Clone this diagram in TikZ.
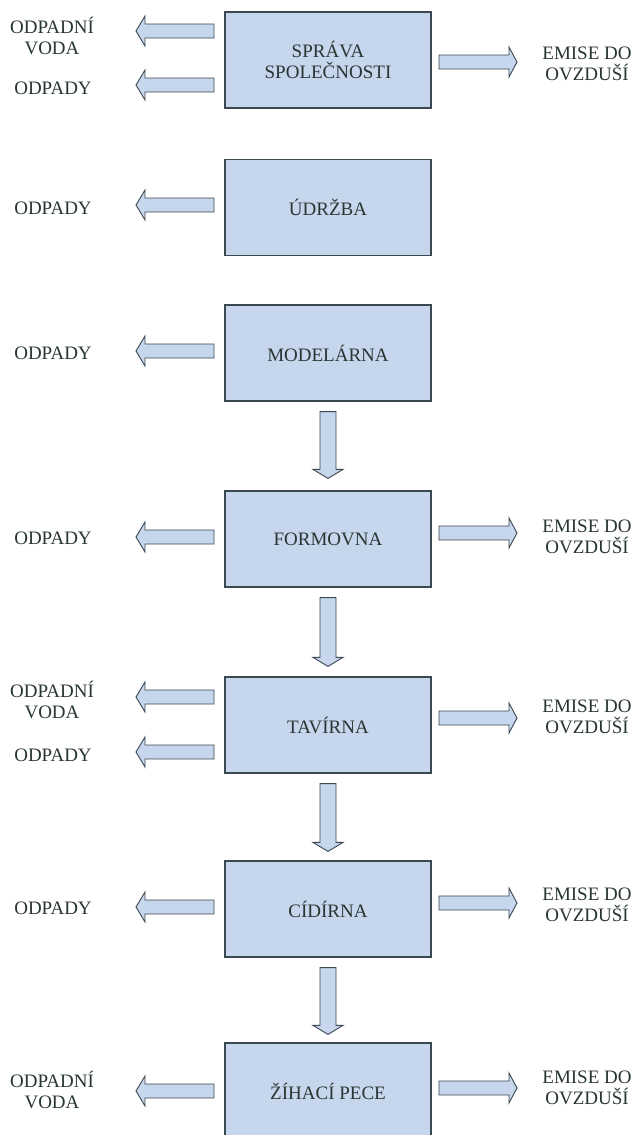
\documentclass[tikz,border=0pt]{standalone}
\usepackage{fontspec}
\setmainfont{Liberation Serif}
\usetikzlibrary{calc}
\definecolor{boxfill}{HTML}{C6D6EC}
\definecolor{edgecol}{HTML}{3C4850}
\definecolor{txtcol}{HTML}{283633}
\tikzset{
  proc/.style={draw=edgecol, fill=boxfill, line width=1.2pt, minimum width=206pt,
    minimum height=96pt, inner sep=0pt, text=txtcol,
    font=\fontsize{19}{21}\selectfont, align=center},
  lbl/.style={text=txtcol, font=\fontsize{19}{21}\selectfont, align=center, inner sep=0pt},
  blk/.style={draw=edgecol, fill=boxfill, line width=0.9pt, line join=miter},
}
% block arrow pointing left: #1 tail (right end), #2 tip
\newcommand{\leftblk}[2]{\draw[blk] let \p1=(#1), \p2=(#2) in
  (\x1,\y1+7pt) -- (\x2+9pt,\y1+7pt) -- (\x2+9pt,\y1+15pt) -- (\x2,\y1)
  -- (\x2+9pt,\y1-15pt) -- (\x2+9pt,\y1-7pt) -- (\x1,\y1-7pt) -- cycle;}
% block arrow pointing right
\newcommand{\rightblk}[2]{\draw[blk] let \p1=(#1), \p2=(#2) in
  (\x1,\y1+7pt) -- (\x2-8pt,\y1+7pt) -- (\x2-8pt,\y1+15pt) -- (\x2,\y1)
  -- (\x2-8pt,\y1-15pt) -- (\x2-8pt,\y1-7pt) -- (\x1,\y1-7pt) -- cycle;}
% block arrow pointing down
\newcommand{\downblk}[2]{\draw[blk] let \p1=(#1), \p2=(#2) in
  (\x1-8pt,\y1) -- (\x1-8pt,\y2+9pt) -- (\x1-15pt,\y2+9pt) -- (\x1,\y2)
  -- (\x1+15pt,\y2+9pt) -- (\x1+8pt,\y2+9pt) -- (\x1+8pt,\y1) -- cycle;}
\begin{document}
\begin{tikzpicture}[x=1pt,y=-1pt]
\useasboundingbox (0,0) rectangle (635,1135);

% process boxes
\node[proc] (b1) at (328,60) {SPRÁVA\\SPOLEČNOSTI};
\node[proc] (b2) at (328,207.5) {ÚDRŽBA};
\node[proc] (b3) at (328,353) {MODELÁRNA};
\node[proc] (b4) at (328,539) {FORMOVNA};
\node[proc] (b5) at (328,725) {TAVÍRNA};
\node[proc] (b6) at (328,909) {CÍDÍRNA};
\node[proc] (b7) at (328,1091) {ŽÍHACÍ PECE};

% labels
\node[lbl] (w1) at (52,36) {ODPADNÍ\\VODA};
\node[lbl] (o1) at (53,88) {ODPADY};
\node[lbl] (e1) at (587,64) {EMISE DO\\OVZDUŠÍ};
\node[lbl] (o2) at (53,208) {ODPADY};
\node[lbl] (o3) at (53,353) {ODPADY};
\node[lbl] (o4) at (53,538) {ODPADY};
\node[lbl] (e4) at (587,537) {EMISE DO\\OVZDUŠÍ};
\node[lbl] (w5) at (52,700) {ODPADNÍ\\VODA};
\node[lbl] (o5) at (53,755) {ODPADY};
\node[lbl] (e5) at (587,717) {EMISE DO\\OVZDUŠÍ};
\node[lbl] (o6) at (53,908) {ODPADY};
\node[lbl] (e6) at (587,905) {EMISE DO\\OVZDUŠÍ};
\node[lbl] (w7) at (52,1090) {ODPADNÍ\\VODA};
\node[lbl] (e7) at (587,1088) {EMISE DO\\OVZDUŠÍ};

% arrow end points
\coordinate (t1a) at (214,31);   \coordinate (p1a) at (136,31);
\coordinate (t1b) at (214,85);   \coordinate (p1b) at (136,85);
\coordinate (t1r) at (439,62);   \coordinate (p1r) at (517,62);
\coordinate (t2) at (214,205);   \coordinate (p2) at (136,205);
\coordinate (t3) at (214,351);   \coordinate (p3) at (136,351);
\coordinate (t4) at (214,537);   \coordinate (p4) at (136,537);
\coordinate (t4r) at (439,533);  \coordinate (p4r) at (517,533);
\coordinate (t5a) at (214,697);  \coordinate (p5a) at (136,697);
\coordinate (t5b) at (214,752);  \coordinate (p5b) at (136,752);
\coordinate (t5r) at (439,718);  \coordinate (p5r) at (517,718);
\coordinate (t6) at (214,907);   \coordinate (p6) at (136,907);
\coordinate (t6r) at (439,903);  \coordinate (p6r) at (517,903);
\coordinate (t7) at (214,1091);  \coordinate (p7) at (136,1091);
\coordinate (t7r) at (439,1088); \coordinate (p7r) at (517,1088);

% outputs
\leftblk{t1a}{p1a}
\leftblk{t1b}{p1b}
\rightblk{t1r}{p1r}
\leftblk{t2}{p2}
\leftblk{t3}{p3}
\leftblk{t4}{p4}
\rightblk{t4r}{p4r}
\leftblk{t5a}{p5a}
\leftblk{t5b}{p5b}
\rightblk{t5r}{p5r}
\leftblk{t6}{p6}
\rightblk{t6r}{p6r}
\leftblk{t7}{p7}
\rightblk{t7r}{p7r}

% flow between departments
\downblk{$(b3.south)+(0,10)$}{$(b4.north)+(0,-12)$}
\downblk{$(b4.south)+(0,10)$}{$(b5.north)+(0,-10)$}
\downblk{$(b5.south)+(0,10)$}{$(b6.north)+(0,-9)$}
\downblk{$(b6.south)+(0,10)$}{$(b7.north)+(0,-8)$}
\end{tikzpicture}
\end{document}
